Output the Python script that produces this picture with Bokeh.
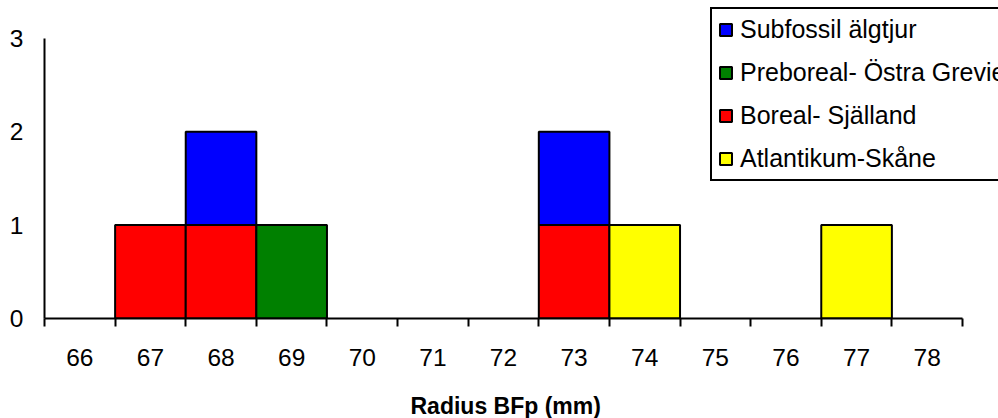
from bokeh.plotting import figure
from bokeh.models import FixedTicker, Legend, LegendItem, Range1d, Title
from bokeh.embed import file_html
from bokeh.resources import INLINE

categories = [66, 67, 68, 69, 70, 71, 72, 73, 74, 75, 76, 77, 78]
subfossil = [0, 0, 1, 0, 0, 0, 0, 1, 0, 0, 0, 0, 0]
preboreal = [0, 0, 0, 1, 0, 0, 0, 0, 0, 0, 0, 0, 0]
boreal = [0, 1, 1, 0, 0, 0, 0, 1, 0, 0, 0, 0, 0]
atlantikum = [0, 0, 0, 0, 0, 0, 0, 0, 1, 0, 0, 1, 0]
y_ticks = [0, 1, 2, 3]

series_names = ["Subfossil älgtjur", "Preboreal- Östra Grevie", "Boreal- Själland", "Atlantikum-Skåne"]
series_values = [subfossil, preboreal, boreal, atlantikum]
series_colors = ["#0000FF", "#008000", "#FF0000", "#FFFF00"]
stack_order = [2, 1, 3, 0]  # bottom to top
x_title = "Radius BFp (mm)"

FONT = "Liberation Sans"

# layout (pixels)
W, H = 998, 418
AX_LEFT, AX_RIGHT, AX_TOP, AX_BOTTOM = 44, 962, 38, 320

x0 = categories[0] - 0.5
x1 = categories[-1] + 0.5
px_per_x = (AX_RIGHT - AX_LEFT) / (x1 - x0)
x_end = x1 + (W - AX_RIGHT) / px_per_x
y0, y1 = y_ticks[0], y_ticks[-1]
px_per_y = (AX_BOTTOM - AX_TOP) / (y1 - y0)
y_end = y1 + AX_TOP / px_per_y

p = figure(width=W, height=H, output_backend="svg", toolbar_location=None,
           x_range=Range1d(x0, x_end), y_range=Range1d(y0, y_end),
           min_border_left=AX_LEFT, min_border_right=0, min_border_top=0,
           min_border_bottom=H - AX_BOTTOM)
p.outline_line_color = None
p.xgrid.visible = False
p.ygrid.visible = False

base = [0] * len(categories)
renderers = {}
for idx in stack_order:
    vals = series_values[idx]
    xs, bottoms, tops = [], [], []
    for i, c in enumerate(categories):
        if vals[i] > 0:
            xs.append(c)
            bottoms.append(base[i])
            tops.append(base[i] + vals[i])
        base[i] += vals[i]
    r = p.vbar(x=xs, bottom=bottoms, top=tops, width=1.0, fill_color=series_colors[idx],
               line_color="black", line_width=2)
    renderers[idx] = r

# axes
xa = p.xaxis[0]
xa.bounds = (x0, x1)
xa.ticker = FixedTicker(ticks=categories, minor_ticks=[c - 0.5 for c in categories] + [x1])
xa.major_tick_out = 0
xa.major_tick_in = 0
xa.minor_tick_out = 8
xa.minor_tick_in = 0
xa.minor_tick_line_color = "black"
xa.minor_tick_line_width = 2
xa.axis_line_color = "black"
xa.axis_line_width = 2
xa.major_label_text_font = FONT
xa.major_label_text_font_size = "24.5px"
xa.major_label_text_color = "black"
xa.major_label_standoff = 22
# invisible spacer label: pushes the title panel down without moving tick labels
xa.axis_label = "\u00a0"
xa.axis_label_text_font_size = "10px"
xa.axis_label_standoff = 8

ya = p.yaxis[0]
ya.bounds = (y0, y1)
ya.ticker = FixedTicker(ticks=y_ticks)
ya.major_tick_out = 0
ya.major_tick_in = 0
ya.minor_tick_out = 0
ya.minor_tick_in = 0
ya.axis_line_color = "black"
ya.axis_line_width = 2
ya.major_label_text_font = FONT
ya.major_label_text_font_size = "24.5px"
ya.major_label_text_color = "black"
ya.major_label_standoff = 21

# x-axis title, left-aligned with an offset so it sits centred under the bounded axis
title_left = 410
title = Title(text=x_title, align="left", offset=title_left - AX_LEFT,
              text_font=FONT, text_font_size="23px", text_font_style="bold",
              text_color="black", standoff=0)
p.add_layout(title, "below")

legend = Legend(items=[LegendItem(label=series_names[i], renderers=[renderers[i]]) for i in range(4)],
                location=(710 - AX_LEFT, AX_BOTTOM - 181 - 2))
legend.label_text_font = FONT
legend.label_text_font_size = "25px"
legend.label_text_color = "black"
legend.glyph_width = 15
legend.glyph_height = 15
legend.label_standoff = 7
legend.label_height = 28
legend.spacing = 14
legend.padding = 6
legend.margin = 0
legend.border_line_color = "black"
legend.border_line_alpha = 1.0
legend.border_line_width = 2
legend.background_fill_color = "white"
legend.background_fill_alpha = 1.0
p.add_layout(legend, "center")

open("out.html", "w").write(file_html(p, INLINE))
